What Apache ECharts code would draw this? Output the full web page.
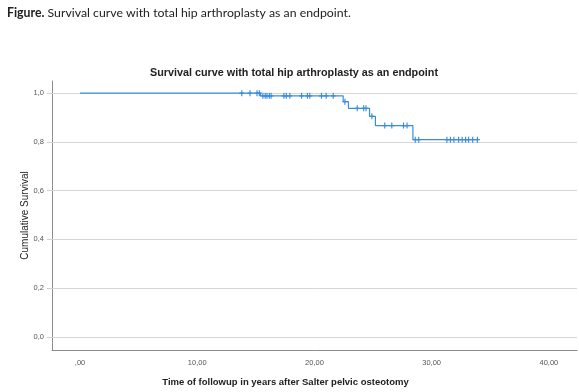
<!DOCTYPE html>
<html>
<head>
<meta charset="utf-8">
<script src="https://cdn.jsdelivr.net/npm/echarts@6/dist/echarts.min.js"></script>
<style>
  html, body { margin: 0; padding: 0; background: #fff; }
  #chart { width: 579px; height: 392px; }
</style>
</head>
<body>
<div id="chart"></div>
<script>
// Kaplan-Meier step points (years, cumulative survival)
const eventTimes = [0, 15.4, 22.45, 22.9, 24.7, 25.2, 28.4, 34.0];
const survival = [1.0, 0.989, 0.965, 0.938, 0.905, 0.867, 0.809, 0.809];

// censored cases (years)
const censoredTimes = [
  13.8, 14.5, 15.1, 15.3,
  15.6, 15.8, 15.95, 16.15, 16.3,
  17.4, 17.6, 17.9, 18.9, 19.4, 19.6, 20.6, 21.0, 21.6,
  22.6, 23.65, 24.2, 24.4, 24.9,
  26.0, 26.6, 27.6, 27.9,
  28.6, 28.9, 31.3, 31.6, 31.9, 32.3, 32.6, 32.9, 33.15, 33.5, 33.9
];

const xTicks = [0, 10, 20, 30, 40];
const yTicks = [0, 0.2, 0.4, 0.6, 0.8, 1.0];

const lineColor = '#3a8ddb';

// survival value in effect at time t
const survAt = (t) => {
  let s = survival[0];
  eventTimes.forEach((e, i) => { if (e <= t) s = survival[i]; });
  return s;
};

const chart = echarts.init(document.getElementById('chart'));

const option = {
  animation: false,
  title: [
    {
      text: '{b|Figure.} Survival curve with total hip arthroplasty as an endpoint.',
      left: 7,
      top: 7,
      padding: 0,
      textStyle: {
        fontFamily: 'Lato',
        fontSize: 12.3,
        fontWeight: 'normal',
        color: '#222',
        rich: {
          b: { fontFamily: 'Lato', fontSize: 12.3, fontWeight: 'bold', color: '#222' }
        }
      }
    },
    {
      text: 'Survival curve with total hip arthroplasty as an endpoint',
      left: 150,
      top: 68,
      padding: 0,
      textStyle: {
        fontFamily: 'Liberation Sans',
        fontSize: 10.8,
        fontWeight: 'bold',
        color: '#222'
      }
    }
  ],
  grid: { left: 52, right: 2, top: 81, bottom: 39 },
  xAxis: {
    type: 'value',
    min: -2.39,
    max: 42.4,
    name: 'Time of followup in years after Salter pelvic osteotomy',
    nameLocation: 'middle',
    nameGap: 27,
    nameTextStyle: {
      fontFamily: 'Liberation Sans',
      fontSize: 9.5,
      fontWeight: 'bold',
      color: '#222',
      padding: [0, 0, 0, -58]
    },
    axisLine: { onZero: false, lineStyle: { color: '#8c8c8c', width: 1 } },
    axisTick: { show: false },
    splitLine: { show: false },
    axisLabel: {
      customValues: xTicks,
      margin: 9,
      fontFamily: 'Liberation Sans',
      fontSize: 7.5,
      color: '#555',
      formatter: (v) => (v === 0 ? ',00' : v.toFixed(2).replace('.', ','))
    }
  },
  yAxis: {
    type: 'value',
    min: -0.054,
    max: 1.05,
    name: 'Cumulative Survival',
    nameLocation: 'middle',
    nameGap: 22,
    nameMoveOverlap: false,
    nameTextStyle: {
      fontFamily: 'Liberation Sans',
      fontSize: 10,
      color: '#222'
    },
    axisLine: { show: true, onZero: false, lineStyle: { color: '#8c8c8c', width: 1 } },
    axisTick: { show: true, customValues: yTicks, length: 5, lineStyle: { color: '#cfcfcf' } },
    splitLine: { show: false },
    axisLabel: {
      customValues: yTicks,
      margin: 8,
      fontFamily: 'Liberation Sans',
      fontSize: 7.5,
      color: '#555',
      formatter: (v) => v.toFixed(1).replace('.', ',')
    }
  },
  series: [
    {
      type: 'line',
      step: 'end',
      data: eventTimes.map((t, i) => [t, survival[i]]),
      symbol: 'none',
      lineStyle: { color: lineColor, width: 1.2 },
      z: 3,
      markLine: {
        silent: true,
        symbol: 'none',
        label: { show: false },
        lineStyle: { color: '#d6d6d6', width: 1, type: 'solid' },
        data: yTicks.map((v) => ({ yAxis: v })),
        z: 1
      }
    },
    {
      type: 'scatter',
      data: censoredTimes.map((t) => [t, survAt(t)]),
      symbol: 'path://M2,0h1.2v6h-1.2zM0,2.4h5.2v1.2h-5.2z',
      symbolSize: [5, 6],
      itemStyle: { color: lineColor, opacity: 1 },
      z: 4
    }
  ]
};

chart.setOption(option);
</script>
</body>
</html>
